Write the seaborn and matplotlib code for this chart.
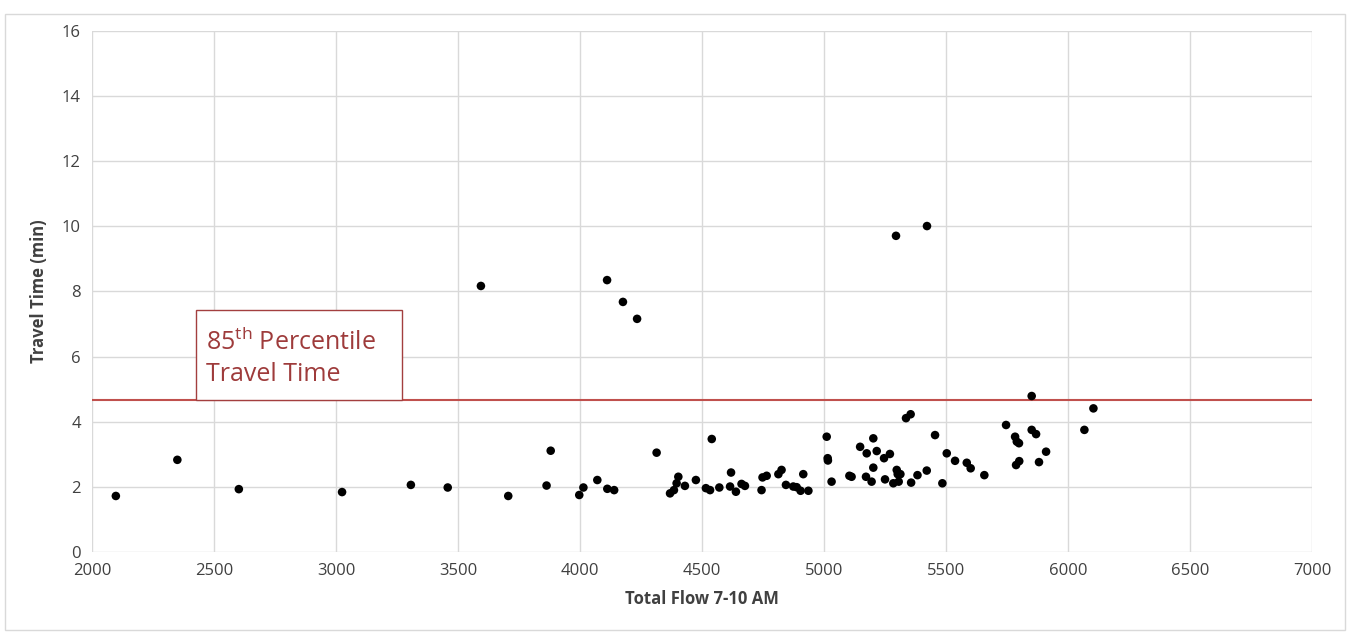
import seaborn as sns
import pandas as pd
import matplotlib.pyplot as plt
from matplotlib.patches import Rectangle

sns.set_style("white")
plt.rcParams['font.family'] = ['Open Sans', 'DejaVu Sans']
plt.rcParams['mathtext.fontset'] = 'custom'
plt.rcParams['mathtext.rm'] = 'Open Sans'

# total flow 7-10 AM (veh) and travel time (min)
flow = [2098, 2350, 2602, 3025, 3307, 3458, 3594, 3706, 3863, 3880,
        3997, 4014, 4071, 4111, 4112, 4140, 4176, 4234, 4314, 4369,
        4385, 4396, 4403, 4430, 4475, 4516, 4533, 4540, 4571, 4615,
        4619, 4639, 4662, 4676, 4744, 4748, 4765, 4813, 4826, 4844,
        4874, 4888, 4904, 4915, 4936, 5011, 5015, 5016, 5031, 5104,
        5113, 5148, 5172, 5175, 5195, 5202, 5202, 5216, 5246, 5250,
        5270, 5284, 5295, 5298, 5302, 5306, 5313, 5336, 5355, 5357,
        5383, 5421, 5422, 5455, 5485, 5503, 5537, 5585, 5601, 5657,
        5746, 5783, 5787, 5790, 5799, 5800, 5851, 5851, 5869, 5881,
        5910, 6067, 6104]
travel_time = [1.72, 2.83, 1.93, 1.84, 2.06, 1.98, 8.17, 1.72, 2.04, 3.11,
               1.75, 1.98, 2.21, 8.35, 1.94, 1.90, 7.68, 7.16, 3.05, 1.80,
               1.90, 2.11, 2.31, 2.03, 2.21, 1.96, 1.90, 3.47, 1.98, 2.01,
               2.44, 1.85, 2.09, 2.03, 1.90, 2.29, 2.34, 2.39, 2.52, 2.06,
               2.01, 1.99, 1.88, 2.39, 1.88, 3.54, 2.88, 2.81, 2.16, 2.34,
               2.31, 3.23, 2.31, 3.03, 2.16, 3.49, 2.59, 3.10, 2.88, 2.23,
               3.01, 2.11, 9.71, 2.52, 2.39, 2.16, 2.39, 4.11, 4.23, 2.13,
               2.36, 2.50, 10.01, 3.59, 2.11, 3.03, 2.80, 2.74, 2.57, 2.36,
               3.90, 3.54, 2.67, 3.39, 3.34, 2.79, 4.79, 3.75, 3.62, 2.76,
               3.08, 3.75, 4.41]
pct85 = 4.67
x_ticks = [2000, 2500, 3000, 3500, 4000, 4500, 5000, 5500, 6000, 6500, 7000]
y_ticks = [0, 2, 4, 6, 8, 10, 12, 14, 16]

df = pd.DataFrame({'flow': flow, 'time': travel_time})

fig, ax = plt.subplots(figsize=(13.5, 6.33), dpi=100)
fig.subplots_adjust(left=0.0681, right=0.9719, top=0.951, bottom=0.128)

sns.scatterplot(data=df, x='flow', y='time', color='black', s=38,
                edgecolor='none', ax=ax, zorder=3)
ax.axhline(pct85, color='#C0504D', lw=1.5, zorder=2)

# label box sitting on the percentile line
ax.add_patch(Rectangle((2426, pct85), 844, 2.76, fc='white', ec='#A33F3F', lw=1.0, zorder=4))
ax.text(2467, pct85 + 1.29, '85$^{\\mathrm{th}}$ Percentile\nTravel Time', color='#9E3B3B',
        fontsize=18, va='center', ha='left', linespacing=1.35, zorder=5)

ax.set_xlim(2000, 7000)
ax.set_ylim(0, 16)
ax.set_xticks(x_ticks)
ax.set_yticks(y_ticks)
ax.grid(True, color='#D9D9D9', lw=1)
for s in ax.spines.values():
    s.set_visible(False)
ax.tick_params(length=0, labelsize=12, colors='#404040', pad=8)
ax.set_xlabel('Total Flow 7-10 AM', fontsize=12, fontweight='bold', color='#404040', labelpad=8)
ax.set_ylabel('Travel Time (min)', fontsize=12, fontweight='bold', color='#404040', labelpad=10)

fig.patches.append(Rectangle((0.004, 0.005), 0.992, 0.973, transform=fig.transFigure,
                             fill=False, ec='#D9D9D9', lw=1))

fig.savefig('out.png', dpi=100)
